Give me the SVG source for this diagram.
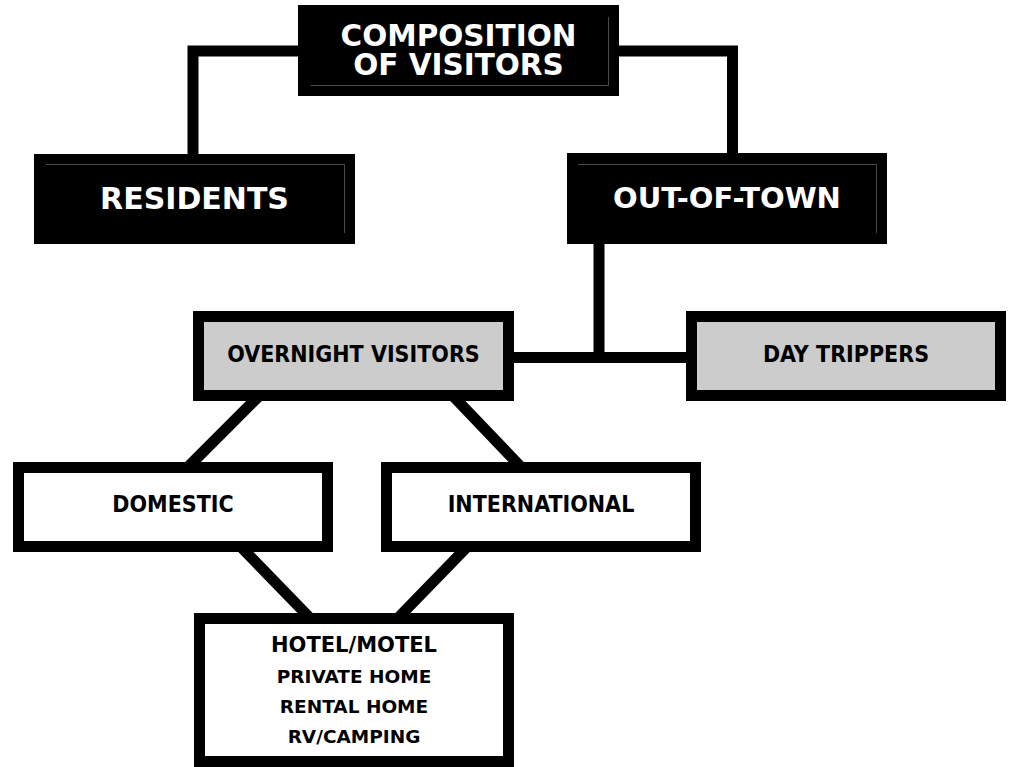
<svg xmlns="http://www.w3.org/2000/svg" width="1011" height="767" viewBox="0 0 1011 767">
<style>
text{font-family:"DejaVu Sans","Liberation Sans",sans-serif;font-weight:bold;text-anchor:middle}
.cond{font-family:"DejaVu Sans Condensed","DejaVu Sans","Liberation Sans",sans-serif;font-stretch:condensed}
.w{fill:#fff}
.k{fill:#000}
.dark{fill:#000}
.inner{fill:none;stroke:#4a4a4a;stroke-width:1}
.gray{fill:#cccccc;stroke:#000;stroke-width:11}
.white{fill:#fff;stroke:#000;stroke-width:11}
.conn{fill:none;stroke:#000;stroke-width:11;stroke-linecap:butt;stroke-linejoin:miter}
</style>
<rect width="1011" height="767" fill="#fff"/>
<g id="connectors">
<polyline class="conn" points="300,51 193,51 193,156"/>
<polyline class="conn" points="617,51 732.5,51 732.5,156"/>
<line class="conn" x1="599" y1="242" x2="599" y2="358"/>
<line class="conn" x1="510" y1="357.5" x2="690" y2="357.5"/>
<line class="conn" x1="258" y1="397" x2="189" y2="466"/>
<line class="conn" x1="454" y1="397" x2="520" y2="466"/>
<line class="conn" x1="242" y1="548" x2="309" y2="617"/>
<line class="conn" x1="466" y1="548" x2="399" y2="617"/>
</g>
<g id="composition">
<rect class="dark" x="298" y="5" width="321" height="91"/>
<polyline class="inner" points="310.5,85.5 608.5,85.5 608.5,17"/>
<text class="w" x="458.5" y="46" font-size="29.5">COMPOSITION</text>
<text class="w" x="458.5" y="75" font-size="29.5">OF VISITORS</text>
</g>
<g id="residents">
<rect class="dark" x="34" y="154" width="321" height="90"/>
<polyline class="inner" points="46,164.5 344.5,164.5 344.5,233"/>
<text class="w" x="194.5" y="209" font-size="30">RESIDENTS</text>
</g>
<g id="out-of-town">
<rect class="dark" x="567" y="153" width="320" height="91"/>
<polyline class="inner" points="578,164.5 876.5,164.5 876.5,233"/>
<text class="w" x="727" y="208" font-size="29">OUT-OF-TOWN</text>
</g>
<g id="overnight">
<rect class="gray" x="198.5" y="316.5" width="310" height="79"/>
<text class="k cond" x="353.5" y="362" font-size="23">OVERNIGHT VISITORS</text>
</g>
<g id="day-trippers">
<rect class="gray" x="691.5" y="316.5" width="309" height="79"/>
<text class="k cond" x="846" y="362" font-size="23">DAY TRIPPERS</text>
</g>
<g id="domestic">
<rect class="white" x="18.5" y="467.5" width="309" height="79"/>
<text class="k cond" x="173" y="512" font-size="23">DOMESTIC</text>
</g>
<g id="international">
<rect class="white" x="386.5" y="467.5" width="309" height="79"/>
<text class="k cond" x="541" y="512" font-size="23">INTERNATIONAL</text>
</g>
<g id="accommodation">
<rect class="white" x="199.5" y="618.5" width="309" height="143"/>
<text class="k" x="354" y="652" font-size="21">HOTEL/MOTEL</text>
<text class="k" x="354" y="683" font-size="18.5">PRIVATE HOME</text>
<text class="k" x="354" y="713" font-size="18.5">RENTAL HOME</text>
<text class="k" x="354" y="743" font-size="18.5">RV/CAMPING</text>
</g>
</svg>
